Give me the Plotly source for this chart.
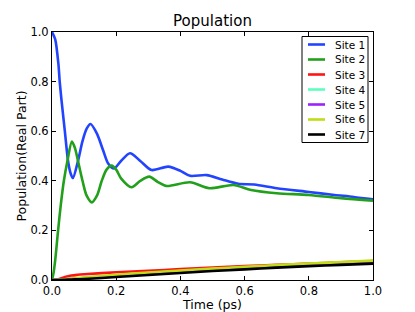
import plotly.graph_objects as go

# ---- data ----
site_names = ["Site 1", "Site 2", "Site 3", "Site 4", "Site 5", "Site 6", "Site 7"]

t_site1 = [0.0, 0.01, 0.02, 0.024, 0.03, 0.04, 0.05, 0.058, 0.065, 0.081, 0.095, 0.108, 0.12, 0.14,
           0.16, 0.175, 0.193, 0.215, 0.243, 0.275, 0.31, 0.362, 0.40, 0.43, 0.482, 0.53, 0.58,
           0.63, 0.70, 0.80, 0.88, 0.94, 1.0]
p_site1 = [1.0, 0.97, 0.87, 0.80, 0.72, 0.60, 0.48, 0.43, 0.411, 0.48, 0.56, 0.61, 0.629, 0.59,
           0.52, 0.47, 0.45, 0.48, 0.511, 0.48, 0.4435, 0.457, 0.44, 0.42, 0.423, 0.405, 0.388,
           0.385, 0.37, 0.355, 0.343, 0.335, 0.325]

t_site2 = [0.0, 0.005, 0.01, 0.019, 0.028, 0.037, 0.048, 0.062, 0.072, 0.081, 0.095, 0.108,
           0.124, 0.14, 0.155, 0.17, 0.186, 0.2, 0.215, 0.248, 0.275, 0.303, 0.33, 0.357, 0.43,
           0.49, 0.565, 0.62, 0.70, 0.80, 0.90, 1.0]
p_site2 = [0.0, 0.03, 0.08, 0.20, 0.31, 0.40, 0.48, 0.558, 0.53, 0.48, 0.40, 0.34,
           0.313, 0.34, 0.40, 0.445, 0.461, 0.445, 0.41, 0.374, 0.40, 0.417, 0.395, 0.379, 0.394,
           0.37, 0.383, 0.363, 0.35, 0.343, 0.33, 0.32]

t_small = [0.0, 0.02, 0.04, 0.06, 0.08, 0.1, 0.2, 0.3, 0.4, 0.5, 0.6, 0.7, 0.8, 0.9, 1.0]
p_site3 = [0.0, 0.003, 0.012, 0.018, 0.021, 0.023, 0.031, 0.037, 0.044, 0.050, 0.056, 0.061, 0.066, 0.071, 0.076]
p_site4 = [0.0, 0.001, 0.003, 0.005, 0.007, 0.009, 0.019, 0.028, 0.036, 0.044, 0.051, 0.058, 0.064, 0.069, 0.074]
p_site5 = [0.0, 0.001, 0.002, 0.004, 0.006, 0.008, 0.017, 0.026, 0.034, 0.042, 0.049, 0.056, 0.062, 0.067, 0.072]
p_site6 = [0.0, 0.001, 0.003, 0.005, 0.008, 0.010, 0.021, 0.030, 0.038, 0.046, 0.053, 0.060, 0.066, 0.072, 0.078]
p_site7 = [0.0, 0.0, 0.001, 0.002, 0.003, 0.004, 0.012, 0.020, 0.028, 0.036, 0.043, 0.050, 0.056, 0.061, 0.066]

x_ticks = [0.0, 0.2, 0.4, 0.6, 0.8, 1.0]
y_ticks = [0.0, 0.2, 0.4, 0.6, 0.8, 1.0]

# ---- styles ----
colors = ["#2244ff", "#22a01c", "#ff1414", "#5cffbe", "#9b22ff", "#c0dc18", "#000000"]
font = "DejaVu Sans"

series = [(t_site1, p_site1), (t_site2, p_site2), (t_small, p_site3), (t_small, p_site4),
          (t_small, p_site5), (t_small, p_site6), (t_small, p_site7)]

fig = go.Figure()
for (tx, py), name, c in zip(series, site_names, colors):
    fig.add_trace(go.Scatter(x=tx, y=py, mode="lines", name=name,
                             line=dict(color=c, width=2.6, shape="spline", smoothing=0.8),
                             showlegend=False))

# ---- manual legend (matplotlib-like compact box) ----
L, R, T, B = 52, 373, 32, 280
W, H = R - L, B - T
def px(x): return (x - L) / W
def py_(y): return (B - y) / H

shapes = [dict(type="rect", xref="paper", yref="paper",
               x0=px(302), x1=px(368), y0=py_(142.5), y1=py_(36.5),
               line=dict(color="black", width=1), fillcolor="white", layer="above")]
annotations = []
row0, step = 44.5, 15.0
for i, (name, c) in enumerate(zip(site_names, colors)):
    yy = py_(row0 + i * step)
    shapes.append(dict(type="line", xref="paper", yref="paper",
                       x0=px(308), x1=px(325), y0=yy, y1=yy,
                       line=dict(color=c, width=2.6), layer="above"))
    annotations.append(dict(xref="paper", yref="paper", x=px(333), y=yy,
                            text=name, showarrow=False, xanchor="left", yanchor="middle",
                            font=dict(family=font, size=10.5, color="black")))

axis_common = dict(showline=True, linecolor="black", linewidth=1, mirror="ticks",
                   ticks="inside", ticklen=4, tickcolor="black", showgrid=False,
                   zeroline=False, tickformat=".1f", automargin=False,
                   tickfont=dict(family=font, size=11.5, color="black"))

fig.update_layout(
    width=415, height=312,
    margin=dict(l=L, r=415 - R, t=T, b=312 - B, autoexpand=False),
    paper_bgcolor="white", plot_bgcolor="white",
    title=dict(text="Population", x=0.5, xanchor="center", xref="paper",
               y=1 - 21 / 312, yanchor="middle", automargin=False,
               font=dict(family=font, size=15, color="black")),
    xaxis=dict(range=[0, 1], tickvals=x_ticks,
               title=dict(text="Time (ps)", font=dict(family=font, size=12.5, color="black"), standoff=0),
               **axis_common),
    yaxis=dict(range=[0, 1], tickvals=y_ticks,
               title=dict(text="Population(Real Part)", font=dict(family=font, size=12.5, color="black"), standoff=1),
               **axis_common),
    shapes=shapes, annotations=annotations,
)

fig.write_html("out.html", config={"displayModeBar": False},
               post_script="document.body.style.margin='0px';document.body.style.overflow='hidden';")
